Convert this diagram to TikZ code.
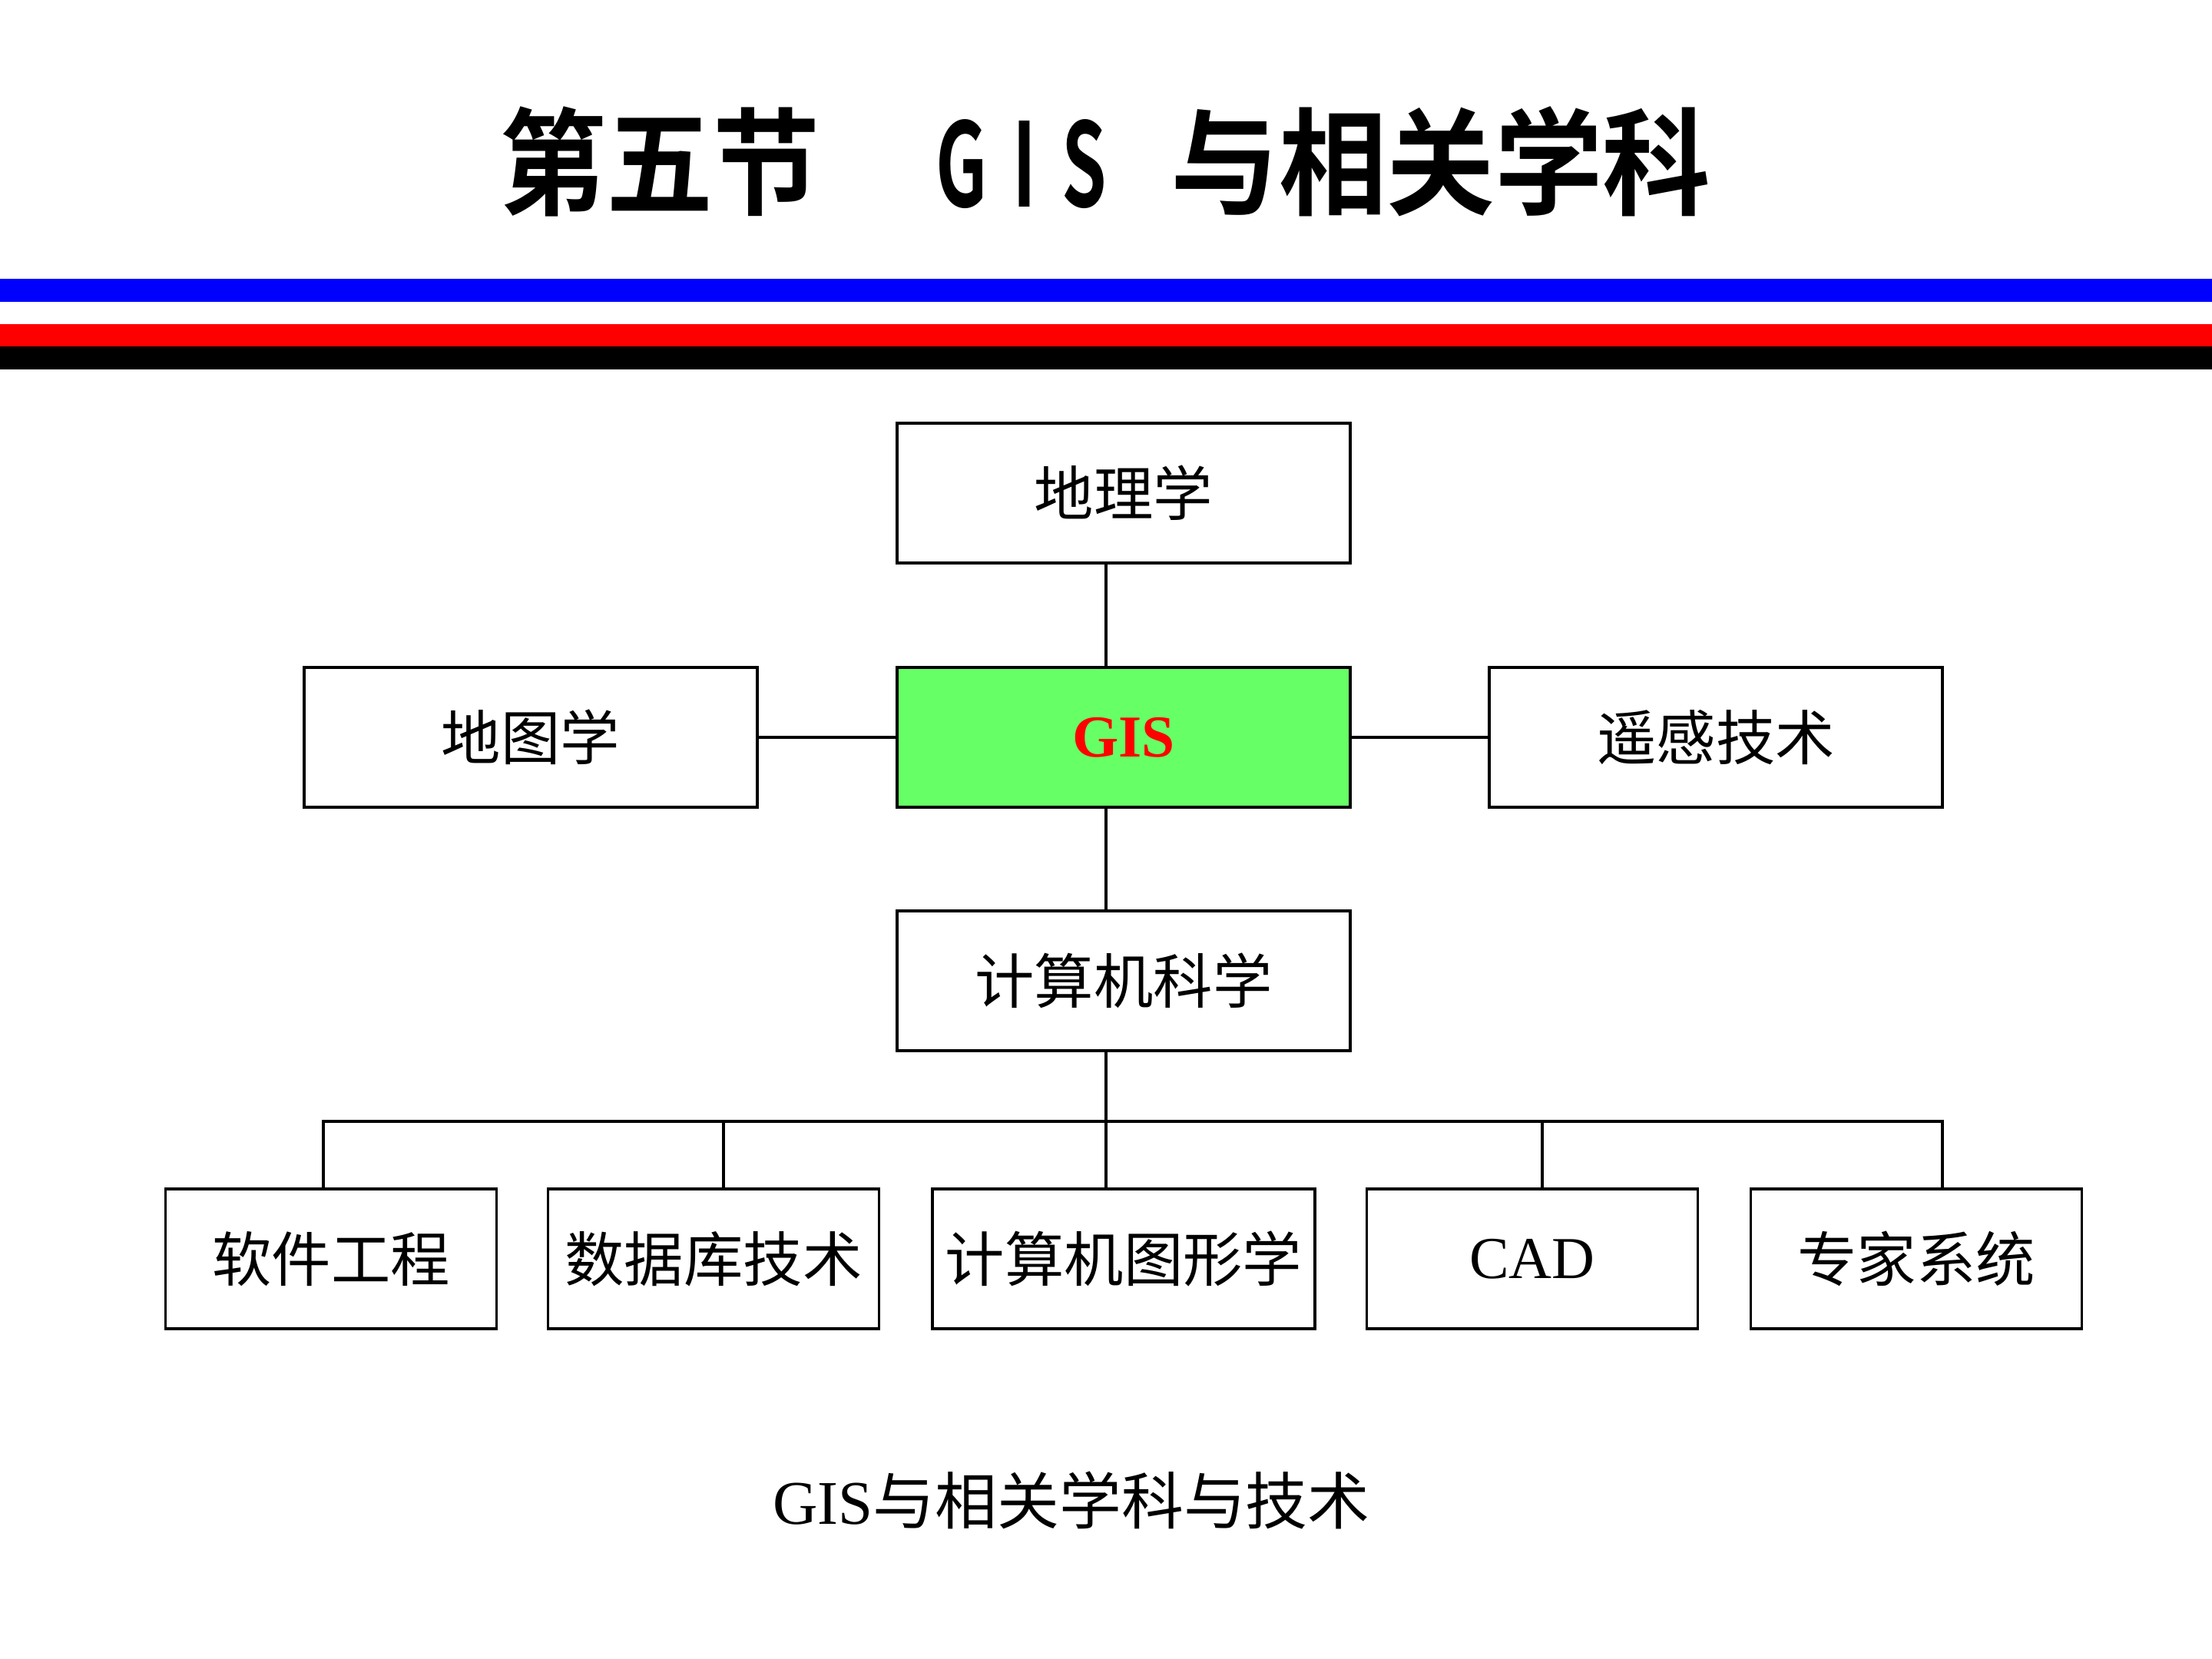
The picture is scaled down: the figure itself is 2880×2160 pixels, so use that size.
\documentclass[tikz,border=0pt]{standalone}
\usepackage{fontspec}
\setmainfont{Liberation Serif}
\newfontfamily\cjk{Noto Sans CJK SC}
\newfontfamily\cjkhei{Noto Sans CJK SC Bold}
\definecolor{gisgreen}{RGB}{102,255,102}
\begin{document}
\begin{tikzpicture}[x=0.01cm,y=-0.01cm]
\tikzstyle{every node}+=[inner sep=0pt]
\tikzstyle{box}=[draw=black,line width=1pt,minimum height=1.82cm,font=\fontsize{22}{26}\selectfont]
\tikzstyle{wide}=[box,minimum width=5.9cm]
\tikzstyle{small}=[box,minimum width=4.31cm]
\tikzstyle{link}=[line width=0.9pt]
\tikzstyle{heading}=[font=\cjkhei\fontsize{43}{47}\selectfont]
\useasboundingbox (0,0) rectangle (2880,2160);
% title and stripes
\node [heading] (t1) at (859,210) {\scalebox{0.92}[1]{第五节}};
\node [heading] (t2) at (1330,214) {\scalebox{0.62}[1]{G\hspace{0.35em}I\hspace{0.35em}S}};
\node [heading] (t3) at (1876,210) {\scalebox{0.93}[1]{与相关学科}};
\fill [blue] (0,363) rectangle (2880,393);
\fill [red] (0,422) rectangle (2880,451);
\fill [black] (0,451) rectangle (2880,481);
% upper part
\node [wide] (geo) at (1463,642) {\cjk 地理学};
\node [wide,fill=gisgreen] (gis) at (1463,960) {\textcolor{red}{\bfseries GIS}};
\node [wide] (carto) at (691,960) {\cjk 地图学};
\node [wide] (rs) at (2234,960) {\cjk 遥感技术};
\node [wide] (cs) at (1463,1277) {\cjk 计算机科学};
% lower row
\node [small] (sw) at (431,1639) {\cjk 软件工程};
\node [small] (db) at (929,1639) {\cjk 数据库技术};
\node [box,minimum width=4.98cm] (cg) at (1463,1639) {\cjk 计算机图形学};
\node [small] (cad) at (1995,1639) {CAD};
\node [small] (es) at (2495,1639) {\cjk 专家系统};
\node [font=\fontsize{23}{27}\selectfont] (cap) at (1395,1953) {GIS\cjk 与相关学科与技术};
% connectors
\coordinate (spine) at (1440,0);
\coordinate (d1) at (421,1460);
\coordinate (d2) at (942,1460);
\coordinate (d4) at (2008,1460);
\coordinate (d5) at (2529,1460);
\draw [link] (geo.south -| spine) -- (gis.north -| spine);
\draw [link] (gis.south -| spine) -- (cs.north -| spine);
\draw [link] (carto.east) -- (gis.west);
\draw [link] (gis.east) -- (rs.west);
\draw [link] (cs.south -| spine) -- (cg.north -| spine);
\draw [link] (d1 |- sw.north) -- (d1) -- (d5) -- (d5 |- es.north);
\draw [link] (d2) -- (d2 |- db.north);
\draw [link] (d4) -- (d4 |- cad.north);
\end{tikzpicture}
\end{document}
